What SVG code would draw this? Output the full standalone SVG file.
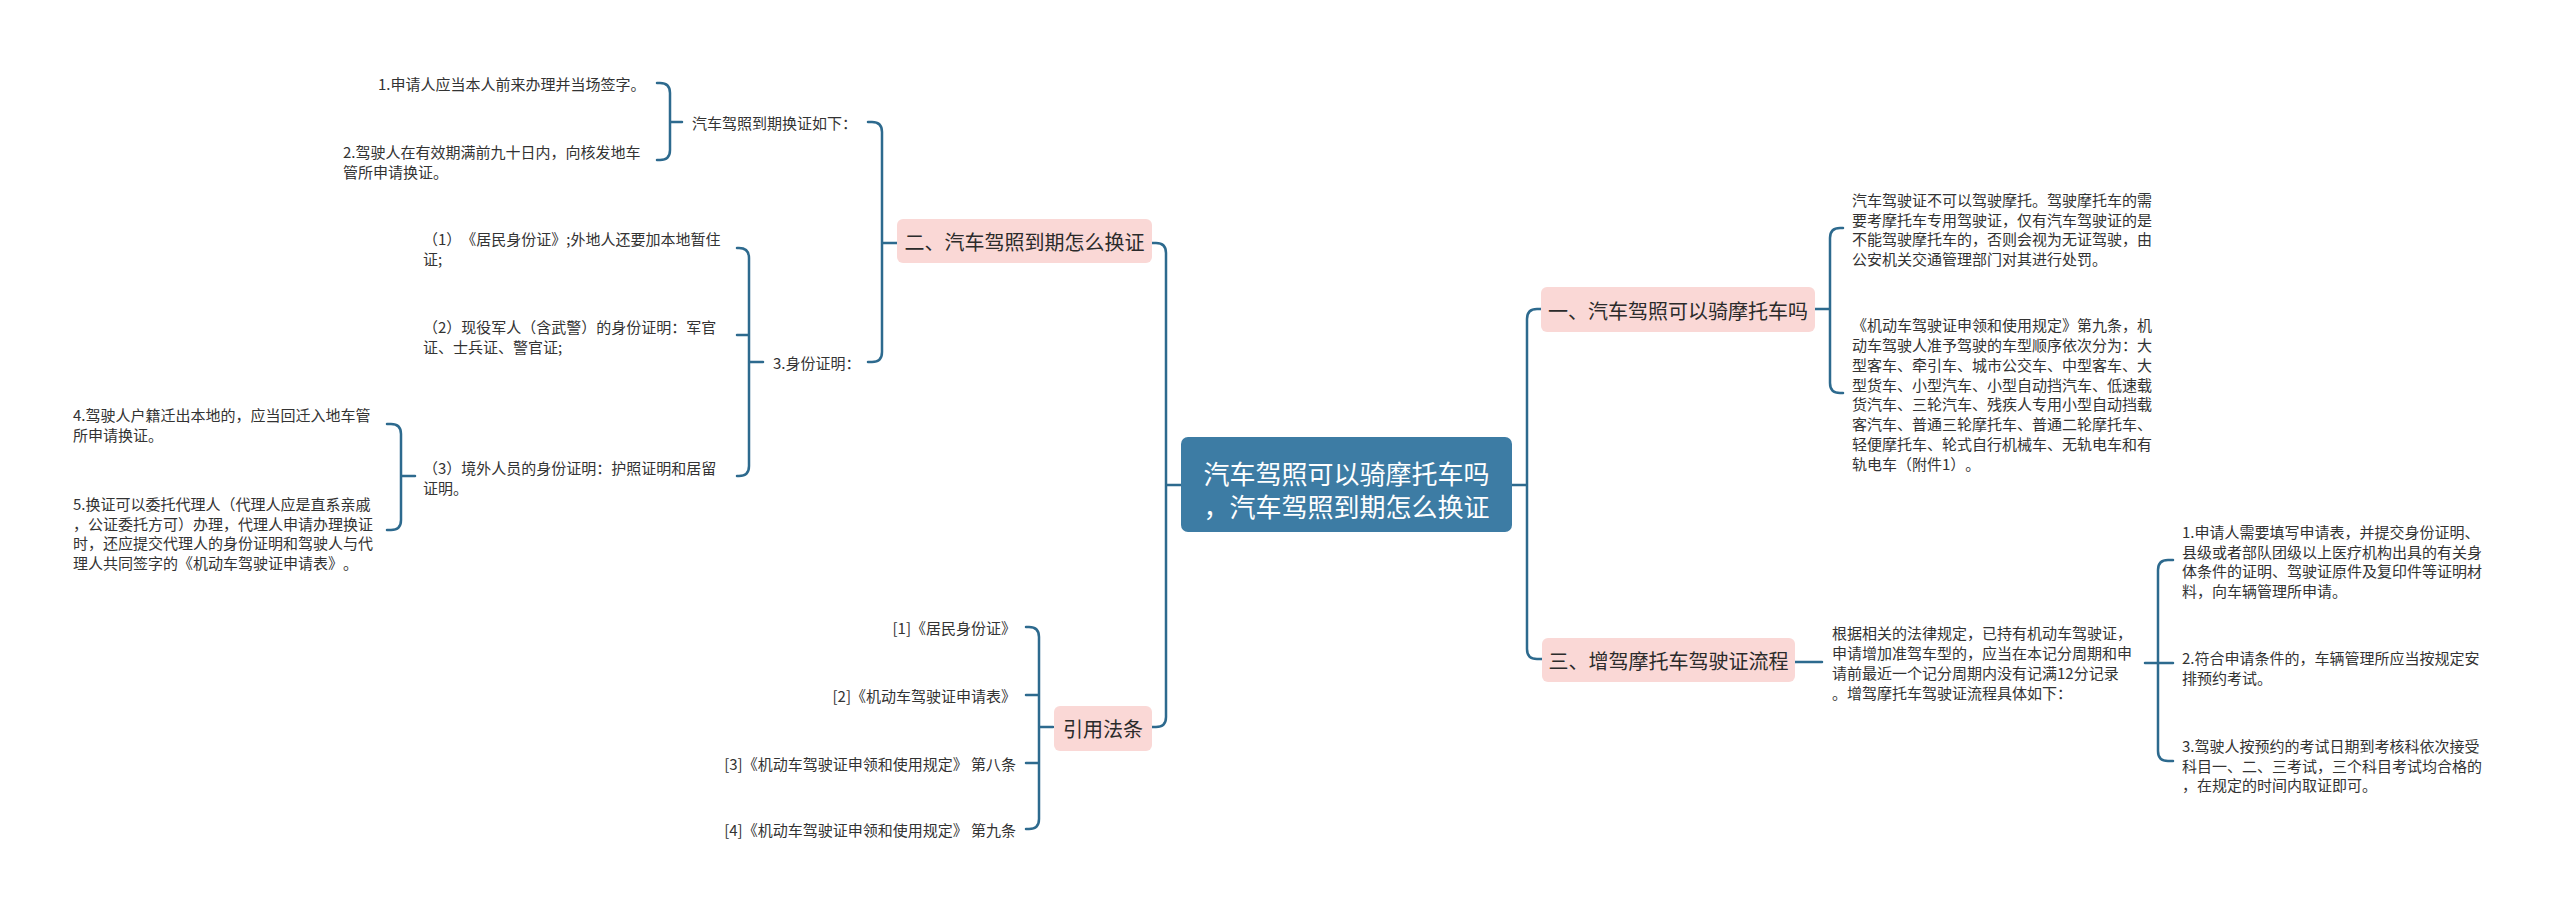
<svg xmlns="http://www.w3.org/2000/svg" width="2560" height="913" viewBox="0 0 2560 913">
<style>
text{font-family:"Noto Sans CJK SC","Noto Sans",sans-serif;dominant-baseline:central;fill:#333;text-spacing-trim:space-all}
.t{font-size:15px}
.n{font-size:20px;text-anchor:middle;fill:#2b2b2b}
.c{font-size:26px;text-anchor:middle;fill:#fff}
.box{fill:#fad8d6}
.root{fill:#3d7ca4}
.ln{fill:none;stroke:#2d6a8e;stroke-width:2.5;stroke-linecap:round}
</style>
<rect width="2560" height="913" fill="#fff"/>
<g id="connectors">
<path class="ln" d="M1152,243 H1156 Q1166,243 1166,253 V717 Q1166,727 1156,727 H1152 M1166,485 H1181"/>
<path class="ln" d="M1542,309 H1537 Q1527,309 1527,319 V649 Q1527,659 1537,659 H1542 M1512,485 H1527"/>
<path class="ln" d="M897,243 H882 M868,122 H872 Q882,122 882,132 V352 Q882,362 872,362 H868"/>
<path class="ln" d="M682,122 H670 M657,83 H660 Q670,83 670,93 V150 Q670,160 660,160 H657"/>
<path class="ln" d="M763,362 H749 M737,248 H739 Q749,248 749,258 V466 Q749,476 739,476 H737 M737,335 H749"/>
<path class="ln" d="M415,476 H401 M387,424 H391 Q401,424 401,434 V520 Q401,530 391,530 H387"/>
<path class="ln" d="M1053,727 H1039 M1026,627 H1029 Q1039,627 1039,637 V819 Q1039,829 1029,829 H1026 M1026,695 H1039 M1026,763 H1039"/>
<path class="ln" d="M1815,309 H1830 M1843,228 H1840 Q1830,228 1830,238 V383 Q1830,393 1840,393 H1843"/>
<path class="ln" d="M1795,662 H1822 M2145,663 H2158 M2173,560 H2168 Q2158,560 2158,570 V751 Q2158,761 2168,761 H2173 M2158,663 H2173"/>
</g>
<g id="root">
<rect class="root" x="1181" y="437" width="331" height="95" rx="7"/>
<text class="c" x="1346.5" y="472">汽车驾照可以骑摩托车吗</text>
<text class="c" x="1346.5" y="505">，汽车驾照到期怎么换证</text>
</g>
<g id="n2">
<rect class="box" x="897" y="219" width="255" height="44" rx="6"/>
<text class="n" x="1024.5" y="241">二、汽车驾照到期怎么换证</text>
</g>
<g id="n2a">
<text class="t" x="692" y="122">汽车驾照到期换证如下：</text>
</g>
<g id="n2a1"><text class="t" x="378" y="83">1.申请人应当本人前来办理并当场签字。</text></g>
<g id="n2a2"><text class="t" x="343" y="151">2.驾驶人在有效期满前九十日内，向核发地车<tspan x="343" dy="20">管所申请换证。</tspan></text></g>
<g id="n2b"><text class="t" x="773" y="362">3.身份证明：</text></g>
<g id="n2b1"><text class="t" x="423" y="238">（1）《居民身份证》;外地人还要加本地暂住<tspan x="423" dy="20">证;</tspan></text></g>
<g id="n2b2"><text class="t" x="423" y="326">（2）现役军人（含武警）的身份证明：军官<tspan x="423" dy="20">证、士兵证、警官证;</tspan></text></g>
<g id="n2b3"><text class="t" x="423" y="467">（3）境外人员的身份证明：护照证明和居留<tspan x="423" dy="20">证明。</tspan></text></g>
<g id="n2b3a"><text class="t" x="73" y="414">4.驾驶人户籍迁出本地的，应当回迁入地车管<tspan x="73" dy="20">所申请换证。</tspan></text></g>
<g id="n2b3b"><text class="t" x="73" y="503">5.换证可以委托代理人（代理人应是直系亲戚<tspan x="73" dy="19.6">，公证委托方可）办理，代理人申请办理换证</tspan><tspan x="73" dy="19.6">时，还应提交代理人的身份证明和驾驶人与代</tspan><tspan x="73" dy="19.6">理人共同签字的《机动车驾驶证申请表》。</tspan></text></g>
<g id="nref">
<rect class="box" x="1054" y="706" width="98" height="45" rx="6"/>
<text class="n" x="1103" y="728">引用法条</text>
</g>
<g id="ref1"><text class="t" x="1016" y="627" text-anchor="end">[1]《居民身份证》</text></g>
<g id="ref2"><text class="t" x="1016" y="695" text-anchor="end">[2]《机动车驾驶证申请表》</text></g>
<g id="ref3"><text class="t" x="1016" y="763" text-anchor="end">[3]《机动车驾驶证申领和使用规定》 第八条</text></g>
<g id="ref4"><text class="t" x="1016" y="829" text-anchor="end">[4]《机动车驾驶证申领和使用规定》 第九条</text></g>
<g id="n1">
<rect class="box" x="1541" y="287" width="274" height="45" rx="6"/>
<text class="n" x="1678" y="310">一、汽车驾照可以骑摩托车吗</text>
</g>
<g id="n1a"><text class="t" x="1852" y="199">汽车驾驶证不可以驾驶摩托。驾驶摩托车的需<tspan x="1852" dy="19.5">要考摩托车专用驾驶证，仅有汽车驾驶证的是</tspan><tspan x="1852" dy="19.5">不能驾驶摩托车的，否则会视为无证驾驶，由</tspan><tspan x="1852" dy="19.5">公安机关交通管理部门对其进行处罚。</tspan></text></g>
<g id="n1b"><text class="t" x="1852" y="324">《机动车驾驶证申领和使用规定》第九条，机<tspan x="1852" dy="19.85">动车驾驶人准予驾驶的车型顺序依次分为：大</tspan><tspan x="1852" dy="19.85">型客车、牵引车、城市公交车、中型客车、大</tspan><tspan x="1852" dy="19.85">型货车、小型汽车、小型自动挡汽车、低速载</tspan><tspan x="1852" dy="19.85">货汽车、三轮汽车、残疾人专用小型自动挡载</tspan><tspan x="1852" dy="19.85">客汽车、普通三轮摩托车、普通二轮摩托车、</tspan><tspan x="1852" dy="19.85">轻便摩托车、轮式自行机械车、无轨电车和有</tspan><tspan x="1852" dy="19.85">轨电车（附件1）。</tspan></text></g>
<g id="n3">
<rect class="box" x="1542" y="638" width="253" height="44" rx="6"/>
<text class="n" x="1668.5" y="660">三、增驾摩托车驾驶证流程</text>
</g>
<g id="n3a"><text class="t" x="1832" y="632">根据相关的法律规定，已持有机动车驾驶证，<tspan x="1832" dy="20">申请增加准驾车型的，应当在本记分周期和申</tspan><tspan x="1832" dy="20">请前最近一个记分周期内没有记满12分记录</tspan><tspan x="1832" dy="20">。增驾摩托车驾驶证流程具体如下：</tspan></text></g>
<g id="n3a1"><text class="t" x="2182" y="531">1.申请人需要填写申请表，并提交身份证明、<tspan x="2182" dy="19.5">县级或者部队团级以上医疗机构出具的有关身</tspan><tspan x="2182" dy="19.5">体条件的证明、驾驶证原件及复印件等证明材</tspan><tspan x="2182" dy="19.5">料，向车辆管理所申请。</tspan></text></g>
<g id="n3a2"><text class="t" x="2182" y="657">2.符合申请条件的，车辆管理所应当按规定安<tspan x="2182" dy="20">排预约考试。</tspan></text></g>
<g id="n3a3"><text class="t" x="2182" y="745">3.驾驶人按预约的考试日期到考核科依次接受<tspan x="2182" dy="19.5">科目一、二、三考试，三个科目考试均合格的</tspan><tspan x="2182" dy="19.5">，在规定的时间内取证即可。</tspan></text></g>
</svg>
